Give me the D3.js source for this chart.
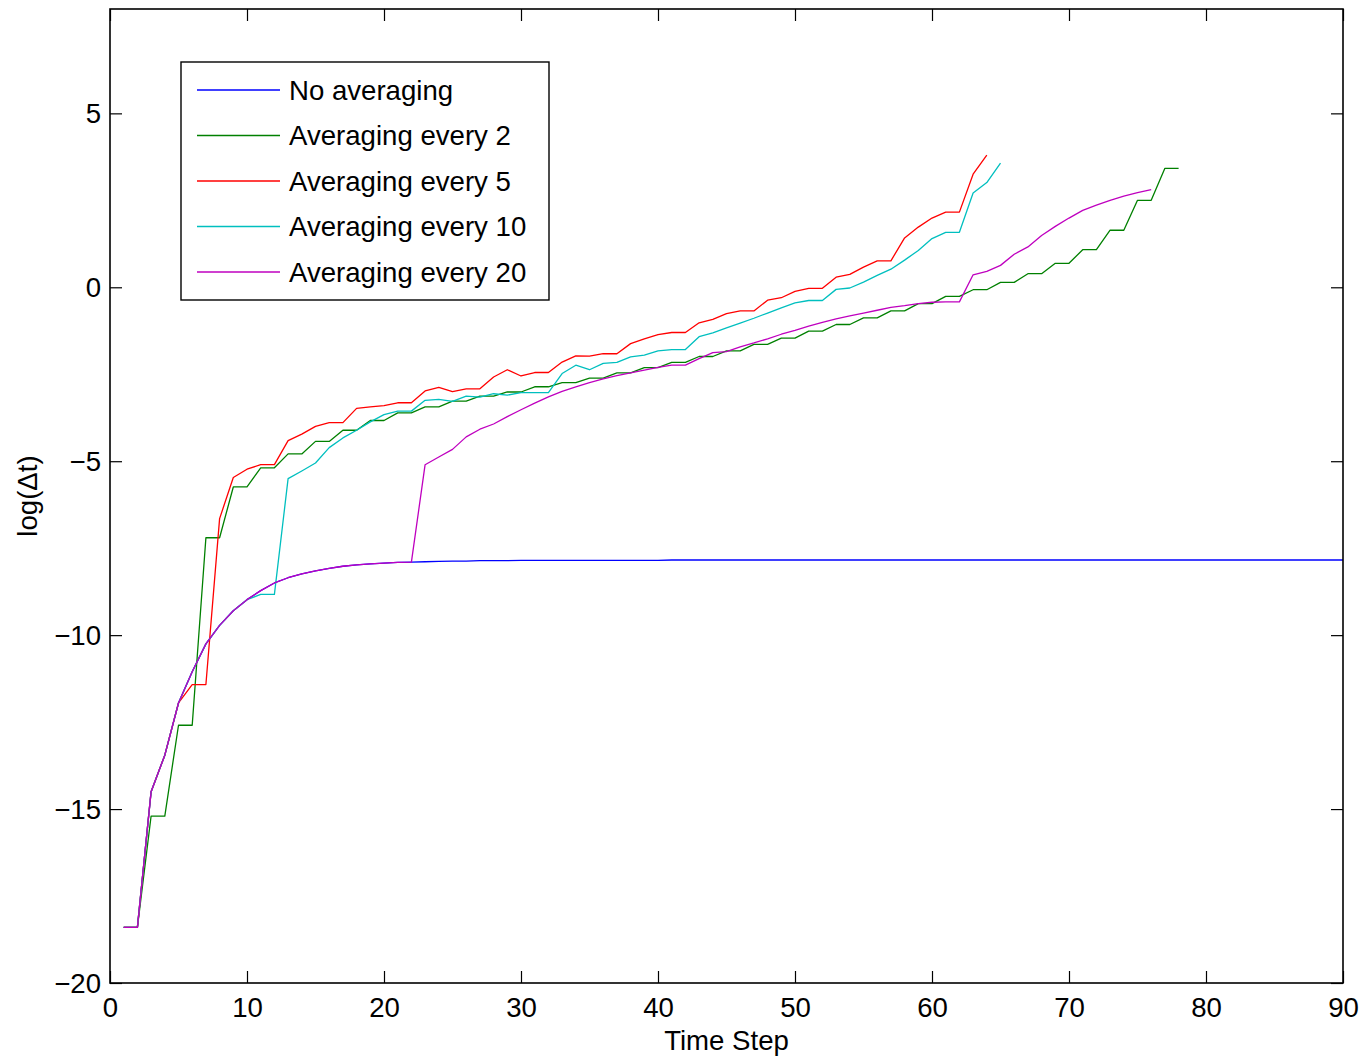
<!DOCTYPE html>
<html>
<head>
<meta charset="utf-8">
<script src="https://cdn.jsdelivr.net/npm/d3@7"></script>
<style>
  html, body { margin: 0; padding: 0; background: #fff; }
  svg { display: block; }
  text { font-family: "Liberation Sans", Arial, Helvetica, sans-serif; fill: #000; }
</style>
</head>
<body>
<svg id="chart" width="1365" height="1058"></svg>
<script>
// ---------------- data ----------------
const seriesNames = ["No averaging", "Averaging every 2", "Averaging every 5", "Averaging every 10", "Averaging every 20"];
const seriesColors = ["#0000ff", "#008000", "#ff0000", "#00bfbf", "#bf00bf"];

const xTicks = [0, 10, 20, 30, 40, 50, 60, 70, 80, 90];
const yTicks = [-20, -15, -10, -5, 0, 5];

// values indexed by time step 1..N
const noAveraging = [
  -18.4, -18.4, -14.5, -13.45, -11.95, -11.05, -10.25, -9.72, -9.3, -8.98,
  -8.72, -8.5, -8.35, -8.24, -8.15, -8.08, -8.02, -7.98, -7.95, -7.93,
  -7.91, -7.9, -7.89, -7.88, -7.87, -7.87, -7.86, -7.86, -7.86, -7.85,
  -7.85, -7.85, -7.85, -7.85, -7.85, -7.85, -7.85, -7.85, -7.85, -7.85,
  -7.84, -7.84, -7.84, -7.84, -7.84, -7.84, -7.84, -7.84, -7.84, -7.84,
  -7.84, -7.84, -7.84, -7.84, -7.84, -7.84, -7.84, -7.84, -7.84, -7.84,
  -7.84, -7.84, -7.84, -7.84, -7.84, -7.84, -7.84, -7.84, -7.84, -7.84,
  -7.84, -7.84, -7.84, -7.84, -7.84, -7.84, -7.84, -7.84, -7.84, -7.84,
  -7.84, -7.84, -7.84, -7.84, -7.84, -7.84, -7.84, -7.84, -7.84, -7.84
];

const avgEvery2 = [
  -18.4, -18.4, -15.2, -15.2, -12.59, -12.59, -7.2, -7.2, -5.74, -5.74,
  -5.19, -5.19, -4.79, -4.79, -4.43, -4.43, -4.11, -4.11, -3.83, -3.83,
  -3.61, -3.61, -3.44, -3.44, -3.27, -3.27, -3.13, -3.13, -3.01, -3.01,
  -2.86, -2.86, -2.74, -2.74, -2.61, -2.61, -2.46, -2.46, -2.31, -2.31,
  -2.16, -2.16, -1.99, -1.99, -1.83, -1.83, -1.64, -1.64, -1.46, -1.46,
  -1.26, -1.26, -1.07, -1.07, -0.88, -0.88, -0.68, -0.68, -0.47, -0.47,
  -0.26, -0.26, -0.07, -0.07, 0.14, 0.14, 0.39, 0.39, 0.69, 0.69,
  1.08, 1.08, 1.64, 1.64, 2.5, 2.5, 3.42, 3.42
];

const avgEvery5 = [
  -18.4, -18.4, -14.5, -13.45, -11.95, -11.42, -11.42, -6.65, -5.47, -5.23,
  -5.1, -5.1, -4.41, -4.22, -4.0, -3.89, -3.89, -3.48, -3.44, -3.4,
  -3.32, -3.32, -2.98, -2.88, -3.0, -2.92, -2.92, -2.58, -2.37, -2.55,
  -2.45, -2.45, -2.15, -1.97, -1.98, -1.91, -1.91, -1.62, -1.48, -1.36,
  -1.3, -1.3, -1.02, -0.92, -0.76, -0.68, -0.68, -0.37, -0.3, -0.12,
  -0.03, -0.03, 0.29, 0.37, 0.58, 0.76, 0.76, 1.42, 1.73, 1.99,
  2.16, 2.16, 3.25, 3.8
];

const avgEvery10 = [
  -18.4, -18.4, -14.5, -13.45, -11.95, -11.05, -10.25, -9.72, -9.3, -8.98,
  -8.83, -8.83, -5.5, -5.28, -5.05, -4.61, -4.33, -4.11, -3.87, -3.66,
  -3.56, -3.56, -3.25, -3.22, -3.28, -3.13, -3.16, -3.06, -3.1, -3.03,
  -3.03, -3.03, -2.48, -2.24, -2.37, -2.19, -2.16, -2.0, -1.95, -1.83,
  -1.79, -1.79, -1.42, -1.31, -1.17, -1.03, -0.89, -0.74, -0.59, -0.45,
  -0.38, -0.38, -0.06, -0.02, 0.15, 0.34, 0.52, 0.78, 1.06, 1.4,
  1.58, 1.58, 2.71, 3.01, 3.57
];

const avgEvery20 = [
  -18.4, -18.4, -14.5, -13.45, -11.95, -11.05, -10.25, -9.72, -9.3, -8.98,
  -8.72, -8.5, -8.35, -8.24, -8.15, -8.08, -8.02, -7.98, -7.95, -7.93,
  -7.91, -7.9, -5.1, -4.88, -4.66, -4.3, -4.08, -3.93, -3.72, -3.52,
  -3.33, -3.15, -2.99, -2.86, -2.74, -2.63, -2.54, -2.46, -2.38, -2.3,
  -2.24, -2.24, -2.05, -1.88, -1.85, -1.71, -1.6, -1.48, -1.35, -1.24,
  -1.12, -1.01, -0.91, -0.82, -0.74, -0.66, -0.58, -0.53, -0.47, -0.43,
  -0.42, -0.42, 0.36, 0.46, 0.63, 0.95, 1.16, 1.49, 1.75, 1.99,
  2.21, 2.36, 2.5, 2.62, 2.72, 2.81
];

const seriesValues = [noAveraging, avgEvery2, avgEvery5, avgEvery10, avgEvery20];

// ---------------- layout ----------------
const plotLeft = 110, plotRight = 1343, plotTop = 9, plotBottom = 983;
const fontSize = 27.6;

const svg = d3.select("#chart");
const x = d3.scaleLinear().domain([0, 90]).range([plotLeft, plotRight]);
const y = d3.scaleLinear().domain([-20, 8]).range([plotBottom, plotTop]);

const fmt = d => d3.format("d")(d).replace("-", "\u2212");

// axes (ticks pointing inward, MATLAB style)
const axBottom = svg.append("g").attr("transform", `translate(0,${plotBottom})`)
  .call(d3.axisBottom(x).tickValues(xTicks).tickSizeInner(-12).tickSizeOuter(0).tickPadding(14).tickFormat(fmt));
const axTop = svg.append("g").attr("transform", `translate(0,${plotTop})`)
  .call(d3.axisTop(x).tickValues(xTicks).tickSizeInner(-12).tickSizeOuter(0).tickFormat(""));
const axLeft = svg.append("g").attr("transform", `translate(${plotLeft},0)`)
  .call(d3.axisLeft(y).tickValues(yTicks).tickSizeInner(-12).tickSizeOuter(0).tickPadding(9).tickFormat(fmt));
const axRight = svg.append("g").attr("transform", `translate(${plotRight},0)`)
  .call(d3.axisRight(y).tickValues(yTicks).tickSizeInner(-12).tickSizeOuter(0).tickFormat(""));

[axBottom, axTop, axLeft, axRight].forEach(g => {
  g.selectAll(".domain").remove();
  g.selectAll(".tick line").attr("stroke", "#000").attr("stroke-width", 1.2);
  g.selectAll(".tick text").attr("font-size", fontSize)
    .attr("font-family", "'Liberation Sans', Arial, Helvetica, sans-serif").attr("fill", "#000");
});
axLeft.selectAll(".tick text").attr("dy", "0.34em");

// data lines
const line = d3.line().x((d, i) => x(i + 1)).y(d => y(d));
seriesValues.forEach((vals, k) => {
  svg.append("path")
    .datum(vals)
    .attr("d", line)
    .attr("fill", "none")
    .attr("stroke", seriesColors[k])
    .attr("stroke-width", 1.3)
    .attr("stroke-linejoin", "round");
});

// box
svg.append("rect")
  .attr("x", plotLeft).attr("y", plotTop)
  .attr("width", plotRight - plotLeft).attr("height", plotBottom - plotTop)
  .attr("fill", "none").attr("stroke", "#000").attr("stroke-width", 1.6);

// axis labels
svg.append("text")
  .attr("x", (plotLeft + plotRight) / 2).attr("y", 1050)
  .attr("text-anchor", "middle").attr("font-size", fontSize)
  .text("Time Step");
svg.append("text")
  .attr("transform", `translate(37,${(plotTop + plotBottom) / 2}) rotate(-90)`)
  .attr("text-anchor", "middle").attr("font-size", fontSize)
  .text("log(\u0394t)");

// legend
const lg = svg.append("g");
lg.append("rect")
  .attr("x", 181).attr("y", 62).attr("width", 368).attr("height", 238)
  .attr("fill", "#fff").attr("stroke", "#000").attr("stroke-width", 1.4);
const rowY = d3.scalePoint().domain(seriesNames).range([90, 272]);
seriesNames.forEach((name, k) => {
  const yy = rowY(name);
  lg.append("line")
    .attr("x1", 197).attr("x2", 280).attr("y1", yy).attr("y2", yy)
    .attr("stroke", seriesColors[k]).attr("stroke-width", 1.3);
  lg.append("text")
    .attr("x", 289).attr("y", yy).attr("dy", "0.36em")
    .attr("font-size", fontSize)
    .text(name);
});
</script>
</body>
</html>
